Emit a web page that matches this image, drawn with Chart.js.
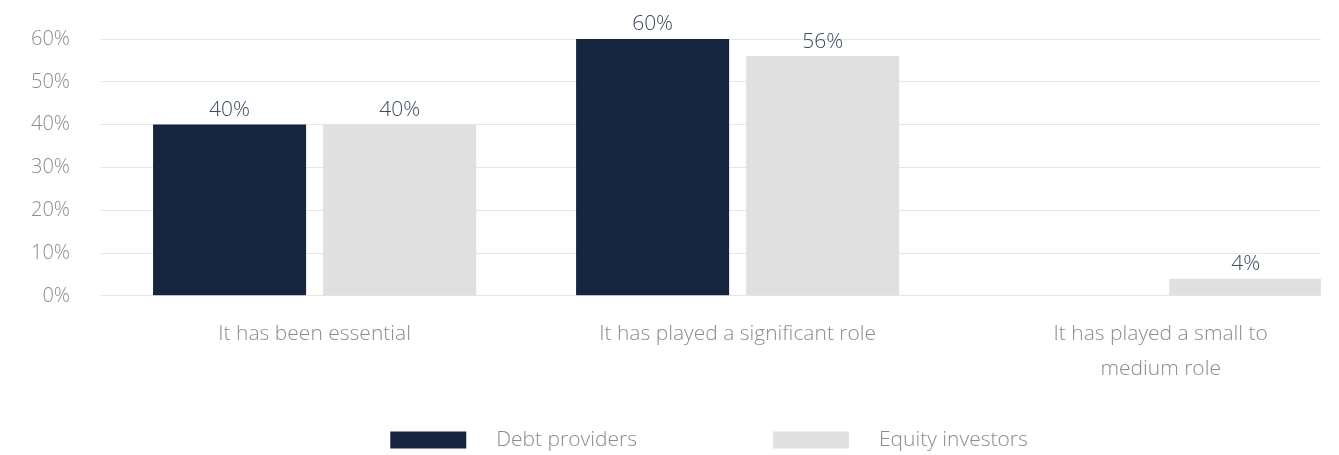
<!DOCTYPE html>
<html>
<head>
<meta charset="utf-8">
<script src="https://cdn.jsdelivr.net/npm/chart.js@4/dist/chart.umd.min.js"></script>
<style>
  html, body { margin: 0; padding: 0; background: #fff; overflow: hidden; }
  #wrap { width: 1339px; height: 455px; position: relative; }
</style>
</head>
<body>
<div id="wrap"><canvas id="chart"></canvas></div>
<script>
const categories = [
  "It has been essential",
  "It has played a significant role",
  ["It has played a small to", "medium role"],
];
const debtProviders = [40, 60, null];
const equityInvestors = [40, 56, 4];
const yTicks = [0, 10, 20, 30, 40, 50, 60];

const navy = "#172640";
const light = "#e0e0e0";
const font = "'Open Sans', sans-serif";

// bars sit on a linear x scale so the last group can run off the right edge like the source
const toPoints = (values) => values.map((y, x) => ({ x, y }));

const valueLabels = {
  id: "valueLabels",
  afterDatasetsDraw(chart) {
    const { ctx } = chart;
    ctx.save();
    ctx.font = `300 21px ${font}`;
    ctx.fillStyle = "#3d4a62";
    ctx.textAlign = "center";
    ctx.textBaseline = "bottom";
    chart.data.datasets.forEach((ds, di) => {
      chart.getDatasetMeta(di).data.forEach((bar, i) => {
        const v = ds.data[i].y;
        if (v == null) return;
        ctx.fillText(`${v}%`, bar.x, bar.y - 4);
      });
    });
    ctx.restore();
  },
};

const boxLegend = {
  id: "boxLegend",
  afterDraw(chart) {
    const { ctx } = chart;
    const centerX = 709, y = 440, boxW = 76, boxH = 17, textGap = 30, itemGap = 136;
    ctx.save();
    ctx.font = `300 21px ${font}`;
    const items = chart.data.datasets.map((ds) => ({
      label: ds.label,
      color: ds.backgroundColor,
      w: boxW + textGap + ctx.measureText(ds.label).width,
    }));
    const total = items.reduce((s, it) => s + it.w, 0) + itemGap * (items.length - 1);
    let x = centerX - total / 2;
    ctx.textBaseline = "middle";
    items.forEach((it) => {
      ctx.fillStyle = it.color;
      ctx.fillRect(x, y - boxH / 2, boxW, boxH);
      ctx.fillStyle = "#8c8c8c";
      ctx.fillText(it.label, x + boxW + textGap, y);
      x += it.w + itemGap;
    });
    ctx.restore();
  },
};

new Chart(document.getElementById("chart"), {
  type: "bar",
  data: {
    datasets: [
      {
        label: "Debt providers",
        data: toPoints(debtProviders),
        backgroundColor: navy,
        categoryPercentage: 0.804,
        barPercentage: 0.9,
      },
      {
        label: "Equity investors",
        data: toPoints(equityInvestors),
        backgroundColor: light,
        categoryPercentage: 0.804,
        barPercentage: 0.9,
      },
    ],
  },
  options: {
    responsive: true,
    maintainAspectRatio: false,
    animation: false,
    layout: { padding: { top: 39, left: 31, right: 18, bottom: 47 } },
    plugins: {
      legend: { display: false },
      tooltip: { enabled: false },
    },
    scales: {
      x: {
        type: "linear",
        offset: false,
        min: -0.505,
        max: 2.379,
        afterBuildTicks(scale) {
          scale.ticks = categories.map((_, i) => ({ value: i }));
        },
        grid: { display: false, drawTicks: false, offset: false },
        border: { display: false },
        ticks: {
          color: "#8c8c8c",
          padding: 21,
          maxRotation: 0,
          autoSkip: false,
          font: { family: font, size: 21, weight: 300, lineHeight: 1.67 },
          callback: (v) => categories[v],
        },
      },
      y: {
        min: 0,
        max: 60,
        afterBuildTicks(scale) {
          scale.ticks = yTicks.map((v) => ({ value: v }));
        },
        // invisible tick marks give the gap between labels and gridlines
        grid: { color: "#e6e6e6", tickLength: 31, tickColor: "transparent" },
        border: { display: false },
        ticks: {
          color: "#8c8c8c",
          padding: 0,
          font: { family: font, size: 20, weight: 300 },
          callback: (v) => `${v}%`,
        },
      },
    },
  },
  plugins: [valueLabels, boxLegend],
});
</script>
</body>
</html>
